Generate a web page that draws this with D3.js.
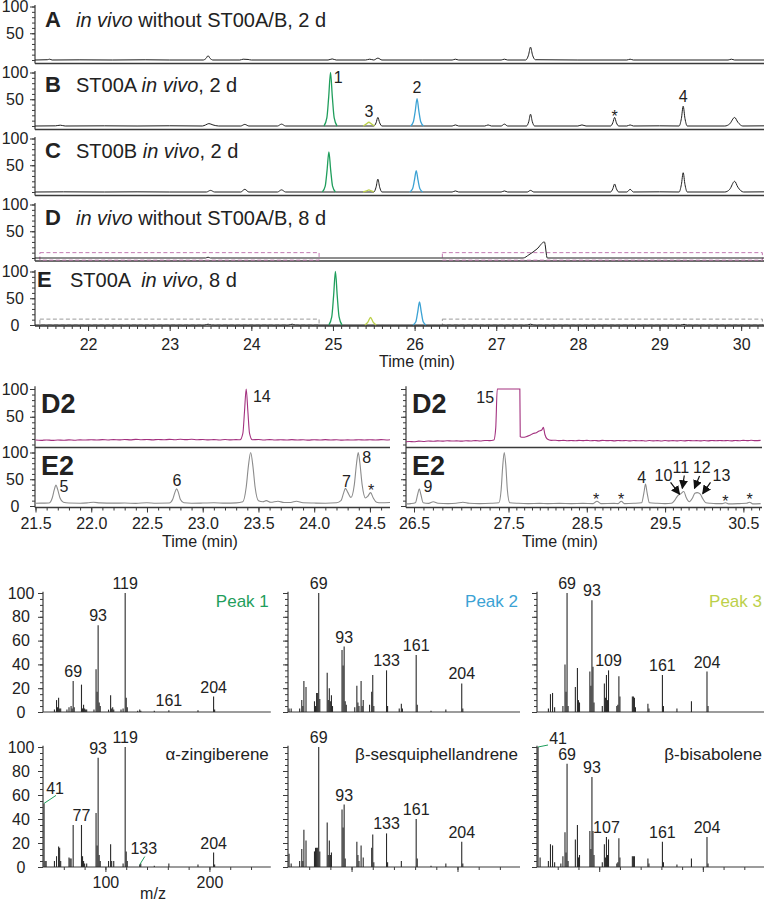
<!DOCTYPE html>
<html><head><meta charset="utf-8">
<script src="https://cdn.jsdelivr.net/npm/d3@7"></script>
<style>
body{margin:0;background:#fff}
svg text{font-family:"Liberation Sans",Arial,Helvetica,sans-serif;fill:#222}
</style>
</head><body>
<svg id="c" width="767" height="901"></svg>
<script>
// ---------------- DATA ----------------
// Top chromatograms (time in min, relative intensity %)
const traceA = [[21.35,0],[21.5,0.5],[21.53,1.5],[21.56,0],[21.9,0.3],[22.3,0],[22.7,0.4],[23.0,0],[23.41,0],[23.445,3],[23.47,8],[23.495,3],[23.53,0],[23.86,0],[23.9,1.5],[23.96,1],[24.0,0],[24.94,0],[24.99,2],[25.04,0],[25.4,0],[25.45,1.5],[25.5,0],[25.55,3.5],[25.6,0],[26.1,0],[26.46,0],[26.5,1.5],[26.54,0],[27.06,0],[27.1,1.5],[27.14,0],[27.36,0],[27.395,9],[27.42,24],[27.445,9],[27.48,0.5],[28.0,0],[28.6,0],[28.64,1.5],[28.68,0],[29.84,0],[29.88,1.5],[29.92,0],[30.28,0]];
const traceB = [[21.35,0],[21.6,0.3],[21.66,1.5],[21.72,0],[22.2,0.3],[22.6,0],[23.0,0.4],[23.4,0],[23.44,2],[23.48,4.5],[23.53,2],[23.6,0],[23.87,0],[23.92,3],[23.97,0],[24.32,0],[24.37,3.5],[24.42,0],[24.89,0],[25.05,0],[25.37,0],[25.5,0],[25.528,6],[25.55,16],[25.572,6],[25.6,0],[25.95,0],[26.11,0],[26.46,0],[26.5,2],[26.54,0],[26.86,0],[26.9,2],[26.94,0],[27.06,0],[27.1,3.5],[27.14,0],[27.37,0],[27.398,8],[27.42,22],[27.442,8],[27.47,0],[28.0,0],[28.05,2],[28.1,0],[28.4,0],[28.428,6],[28.45,16],[28.472,6],[28.5,0],[28.6,0],[28.64,2],[28.68,0],[29.0,0.3],[29.24,0],[29.268,14],[29.29,37],[29.312,14],[29.34,0],[29.8,0],[29.86,4],[29.92,16],[29.96,7],[30.02,0],[30.28,0.3]];
const traceC = [[21.35,0],[21.7,0.3],[22.2,0],[22.6,0.3],[23.0,0],[23.45,0],[23.5,3],[23.55,0],[23.87,0],[23.92,5],[23.97,0],[24.32,0],[24.37,4],[24.42,0],[24.87,0],[25.03,0],[25.37,0],[25.5,0],[25.528,9],[25.55,24],[25.572,9],[25.6,0],[25.94,0],[26.1,0],[26.46,0],[26.5,2],[26.54,0],[27.06,0],[27.1,2],[27.14,0],[27.38,0],[27.42,3],[27.46,0],[28.4,0],[28.428,6],[28.45,15],[28.472,6],[28.5,0],[28.6,0],[28.64,5],[28.68,0],[29.0,0.3],[29.24,0],[29.268,14],[29.29,36],[29.312,14],[29.34,0],[29.8,0],[29.86,5],[29.92,20],[29.96,9],[30.03,0],[30.28,0.3]];
const traceD = [[21.35,0],[23.44,0],[23.47,1.5],[23.5,0],[27.33,0],[27.4,6],[27.5,17],[27.59,30],[27.625,0],[30.28,0]];
const traceE = [[21.35,0],[23.43,0],[23.47,1.5],[23.51,0],[24.46,0],[24.5,1.5],[24.54,0],[24.95,0],[25.11,0],[25.38,0],[25.54,0],[25.98,0],[26.14,0],[27.38,0],[27.42,1.5],[27.46,0],[29.26,0],[29.3,1.2],[29.34,0],[30.28,0]];
// coloured peaks (1 green, 2 blue, 3 yellow) per panel
const peak1 = {B:[[24.89,0],[24.925,15],[24.948,55],[24.97,100],[24.992,55],[25.015,15],[25.05,0]],
               C:[[24.87,0],[24.905,11],[24.928,41],[24.95,75],[24.972,41],[24.995,11],[25.03,0]],
               E:[[24.95,0],[24.985,15],[25.008,55],[25.03,100],[25.052,55],[25.075,15],[25.11,0]]};
const peak2 = {B:[[25.95,0],[25.985,8],[26.008,28],[26.03,51],[26.052,28],[26.075,8],[26.11,0]],
               C:[[25.94,0],[25.975,6],[25.998,22],[26.02,40],[26.042,22],[26.065,6],[26.1,0]],
               E:[[25.98,0],[26.015,6],[26.038,24],[26.06,43],[26.082,24],[26.105,6],[26.14,0]]};
const peak3 = {B:[[25.37,0],[25.41,4],[25.44,7],[25.47,4],[25.51,0]],
               C:[[25.37,0],[25.41,2],[25.44,4],[25.47,2],[25.5,0]],
               E:[[25.39,0],[25.43,6],[25.46,14],[25.49,6],[25.53,0]]};
const zoomWindows = [[21.41,24.83],[26.34,30.26]];
const topTicks = [22,23,24,25,26,27,28,29,30];
const topPeakLabels = [[25.064,80,"1"],[25.44,17,"3"],[26.03,62,"2"],[28.45,7.5,"*"],[29.29,45,"4"]];

// Zoomed chromatograms
const d2Left = [[21.5,8],[21.55,7.5],[21.6,8.2],[21.65,7.4],[21.7,8],[21.75,7.6],[21.8,8.3],[21.85,7.7],[21.9,8.4],[21.95,8],[22.0,8.6],[22.05,8.1],[22.1,8.7],[22.15,8.2],[22.2,8.8],[22.25,8.3],[22.3,9],[22.35,8.4],[22.4,9.3],[22.45,8.6],[22.5,9],[22.55,8.4],[22.6,9.1],[22.65,8.5],[22.7,9.2],[22.75,8.6],[22.8,9.4],[22.85,8.7],[22.9,9.5],[22.95,8.6],[23.0,9],[23.05,8.3],[23.1,8.8],[23.15,8.2],[23.2,8.9],[23.25,8.3],[23.3,8.7],[23.335,8.5],[23.36,20],[23.375,60],[23.39,100],[23.405,60],[23.42,20],[23.445,8.5],[23.5,9],[23.55,8.2],[23.6,8.8],[23.65,8.1],[23.7,8.6],[23.75,8],[23.8,8.7],[23.85,8.1],[23.9,8.5],[23.95,7.9],[24.0,8.6],[24.05,8],[24.1,8.7],[24.15,8.1],[24.2,8.5],[24.25,7.9],[24.3,8.4],[24.35,8],[24.4,8.6],[24.45,8],[24.5,8.5],[24.55,8.1],[24.6,8.7],[24.65,8.2],[24.68,8.6]];
const e2Left = [[21.5,5],[21.55,5.3],[21.62,5.5],[21.65,15],[21.668,30],[21.684,39],[21.7,30],[21.72,15],[21.75,7],[21.8,5.5],[21.9,5.2],[21.97,6],[22.02,7],[22.08,5.8],[22.2,5.3],[22.3,5.5],[22.4,5],[22.5,6],[22.58,5.2],[22.7,5.5],[22.73,12],[22.75,25],[22.766,32],[22.782,25],[22.8,12],[22.83,6],[22.9,5.2],[23.0,5.5],[23.1,6],[23.2,5.3],[23.3,5.8],[23.36,8],[23.39,35],[23.41,75],[23.43,100],[23.45,75],[23.47,35],[23.5,10],[23.54,8],[23.57,10],[23.61,7],[23.675,9],[23.73,6.5],[23.79,6.5],[23.84,9],[23.9,6],[24.0,5.5],[24.1,5.2],[24.2,6],[24.24,10],[24.265,25],[24.28,33],[24.3,26],[24.33,16],[24.36,40],[24.38,80],[24.395,100],[24.41,80],[24.43,40],[24.46,15],[24.48,18],[24.506,25],[24.53,15],[24.56,7],[24.6,6],[24.68,6.5]];
const d2Right = [[26.415,5],[26.45,5.5],[26.5,5],[26.55,6],[26.6,5.5],[26.65,6.3],[26.7,5.8],[26.75,6.5],[26.8,6],[26.85,6.8],[26.9,6.2],[26.95,6.6],[27.0,6],[27.05,6.8],[27.1,6.3],[27.15,7],[27.2,6.4],[27.25,7.2],[27.3,7],[27.345,8],[27.365,30],[27.381,100],[27.645,100],[27.65,14],[27.685,13],[27.725,14],[27.765,16],[27.815,20],[27.855,21],[27.885,24],[27.925,26],[27.945,31],[27.965,18],[27.995,10],[28.045,7.5],[28.1,7.6],[28.15,7],[28.2,7.4],[28.25,6.8],[28.3,7.3],[28.35,6.7],[28.4,7.4],[28.45,6.9],[28.5,7.5],[28.55,6.8],[28.6,7.2],[28.65,6.6],[28.7,7.4],[28.75,6.9],[28.8,7.2],[28.85,6.6],[28.9,7.3],[28.95,6.7],[29.0,7.1],[29.05,6.5],[29.1,7.2],[29.15,6.7],[29.2,7],[29.25,6.4],[29.3,7.1],[29.35,6.6],[29.4,7],[29.45,6.4],[29.5,7.2],[29.55,6.6],[29.6,7],[29.65,6.5],[29.7,7.1],[29.75,6.6],[29.8,7.2],[29.85,6.7],[29.9,7],[29.95,6.5],[30.0,7.1],[30.05,6.6],[30.1,7.2],[30.15,6.8],[30.2,7.3],[30.25,6.7],[30.3,7.1],[30.35,6.6],[30.4,7.3],[30.45,6.8],[30.5,7.5],[30.55,7],[30.6,7.6],[30.65,7],[30.72,7.4]];
const e2Right = [[26.415,4],[26.465,4.5],[26.514,6],[26.539,22],[26.556,32],[26.572,22],[26.597,6],[26.655,5],[26.704,8],[26.754,5],[26.861,4.5],[26.944,5],[27.018,7],[27.084,5],[27.191,4.5],[27.315,5],[27.398,6],[27.422,30],[27.439,75],[27.455,100],[27.472,75],[27.488,30],[27.516,6],[27.625,5],[27.75,4.5],[27.9,5],[28.0,4.5],[28.15,5],[28.3,4.5],[28.45,5],[28.58,4.5],[28.63,9],[28.68,4.5],[28.85,5],[28.9,4.5],[28.94,9],[28.98,4.5],[29.1,5],[29.2,6],[29.23,25],[29.25,41],[29.27,25],[29.3,6],[29.4,5],[29.5,4.5],[29.58,5],[29.62,10],[29.66,19],[29.7,23],[29.74,27],[29.77,16],[29.81,8],[29.85,15],[29.88,24],[29.91,25],[29.95,22],[29.98,14],[30.02,6],[30.08,5],[30.15,4.5],[30.23,4.5],[30.27,6],[30.31,4],[30.45,4.5],[30.54,5],[30.58,7],[30.62,4],[30.72,4.5]];
const midTicksLeft = [21.5,22.0,22.5,23.0,23.5,24.0,24.5];
const midTicksRight = [26.5,27.5,28.5,29.5,30.5];
const d2LeftLabels = [[23.53,76.6,"14"]];
const e2LeftLabels = [[21.756,26,"5"],[22.77,37,"6"],[24.29,35.5,"7"],[24.47,80,"8"],[24.51,19,"*"]];
const d2RightLabels = [[27.347,75,"15"]];
const e2RightLabels = [[26.648,26,"9"],[28.62,2,"*"],[28.94,2,"*"],[29.20,43,"4"],[29.48,47,"10"],[29.70,62,"11"],[29.97,62,"12"],[30.22,47,"13"],[30.27,-2,"*"],[30.58,2,"*"]];
// arrows: [t0,v0,t1,v1]
const e2Arrows = [[29.57,44,29.685,22],[29.745,57,29.72,33],[29.94,56,29.875,33],[30.08,44,29.98,23]];

// Mass spectra: [m/z, relative abundance]
const msPeak1 = [[51,2],[53,10],[54,4],[55,12],[56,3],[57,3],[63,2],[65,4],[67,5],[68,3],[69,26],[70,4],[77,23],[78,3],[79,6],[80,3],[81,2],[82,2],[89,2],[91,36],[92,17],[93,73],[94,8],[95,5],[103,2],[105,14],[106,3],[107,4],[108,2],[115,2],[117,3],[119,100],[120,12],[121,4],[131,1],[133,2],[134,1],[147,1],[161,1.5],[189,1.5],[204,13],[205,2]];
const msPeak2 = [[41,3],[43,3],[51,3],[53,10],[54,5],[55,26],[57,21],[65,9],[66,5],[67,16],[68,16],[69,100],[70,11],[77,33],[78,10],[79,20],[80,9],[81,14],[82,5],[91,52],[92,39],[93,55],[94,9],[95,6],[103,4],[105,22],[106,8],[107,5],[109,26],[110,5],[111,10],[117,6],[119,17],[120,31],[121,5],[133,35],[134,5],[145,3],[147,7],[148,3],[161,48],[162,6],[175,1],[189,2],[204,24],[205,3]];
const msPeak3 = [[51,3],[53,15],[55,16],[57,4],[65,5],[67,40],[68,17],[69,100],[70,5],[77,21],[79,37],[80,10],[81,8],[91,34],[92,22],[93,94],[94,38],[95,8],[103,5],[105,24],[106,12],[107,31],[108,10],[109,35],[117,5],[118,6],[119,30],[120,13],[132,13],[133,13],[134,12],[135,4],[147,7],[148,3],[161,31],[162,5],[175,3],[189,9],[204,34],[205,5]];
const msZingiberene = [[41,53],[42,5],[43,5],[51,5],[53,9],[55,17],[56,16],[57,5],[65,8],[66,7],[67,7],[69,35],[77,35],[78,9],[79,5],[80,3],[82,3],[91,45],[92,18],[93,91],[94,10],[95,5],[103,5],[105,19],[106,5],[108,5],[117,3],[119,100],[120,13],[121,5],[133,2],[134,3],[147,1],[161,3],[189,2],[204,12],[205,2]];
const msSesquiphellandrene = [[41,11],[43,3],[51,5],[53,15],[54,5],[55,31],[57,22],[65,13],[66,16],[67,16],[68,16],[69,100],[70,13],[77,37],[78,10],[79,22],[80,10],[81,12],[91,48],[92,33],[93,52],[94,7],[105,21],[106,10],[107,5],[109,18],[111,8],[119,16],[120,27],[121,4],[133,28],[134,4],[147,5],[161,40],[162,7],[175,1],[189,3],[204,21],[205,3]];
const msBisabolene = [[41,100],[43,8],[51,5],[53,19],[55,18],[57,4],[63,3],[65,9],[67,29],[68,12],[69,86],[70,5],[77,23],[79,35],[80,8],[81,10],[91,30],[92,15],[93,75],[94,30],[95,10],[103,4],[105,19],[106,8],[107,25],[108,10],[109,23],[117,3],[118,4],[119,24],[120,8],[132,9],[133,9],[134,9],[147,7],[148,3],[161,21],[162,4],[175,2],[189,7],[204,25],[205,3]];
const msLabels = [[69,93,119,161,204],[69,93,133,161,204],[69,93,109,161,204],[41,77,93,119,133,204],[69,93,133,161,204],[41,69,93,107,161,204]];
const msCallouts = [[3,41],[3,133],[5,41]];
const msTitles = ["Peak 1","Peak 2","Peak 3","\u03b1-zingiberene","\u03b2-sesquiphellandrene","\u03b2-bisabolene"];
const msYTicks = [0,20,40,60,80,100];
const msXTicks = [100,200];

// ---------------- DRAWING ----------------
const svg = d3.select("#c");
const AX = "#3a3a3a";
const GREEN = "#1f9e5c", BLUE = "#3ba2d4", YELLOW = "#bcd04a", MAGENTA = "#a3317f", GREY = "#8c8c8c";

function styleAxis(g){ g.selectAll("path.domain").remove(); g.selectAll(".tick line").attr("stroke",AX).attr("stroke-width",1); }

// ---- Top panels ----
const xTop = d3.scaleLinear().domain([21.35,30.28]).range([35,764]);
const topIds = ["A","B","C","D","E"];
const topTraces = [traceA,traceB,traceC,traceD,traceE];
const topY0 = [60,126,192,258,325];
const topBottom = [63.5,129.5,195.5,261,326];
const topTitleY = [27,92,158,225,287];
const topTitles = [
 [["in vivo","i"],[" without ST00A/B, 2 d",""]],
 [["ST00A ",""],["in vivo","i"],[", 2 d",""]],
 [["ST00B ",""],["in vivo","i"],[", 2 d",""]],
 [["in vivo","i"],[" without ST00A/B, 8 d",""]],
 [["ST00A  ",""],["in vivo","i"],[", 8 d",""]]];

topIds.forEach((id,i)=>{
  const y = d3.scaleLinear().domain([0,100]).range([topY0[i], topY0[i]-53.5]);
  const g = svg.append("g");
  g.append("line").attr("x1",35).attr("x2",35).attr("y1",y(103)).attr("y2",topBottom[i]).attr("stroke",AX).attr("stroke-width",1.2);
  const minor = g.append("g").attr("transform","translate(35,0)").call(d3.axisLeft(y).tickValues(d3.range(0,101,10)).tickSize(3).tickFormat(""));
  styleAxis(minor);
  const major = g.append("g").attr("transform","translate(35,0)").call(d3.axisLeft(y).tickValues(id==="E"?[0,50,100]:[50,100]).tickSize(5));
  styleAxis(major);
  major.selectAll("text").attr("x",-20).attr("text-anchor","middle").attr("font-size",16).attr("font-family",null).attr("fill","#222");
  g.append("line").attr("x1",35).attr("x2",764).attr("y1",topBottom[i]).attr("y2",topBottom[i]).attr("stroke",AX).attr("stroke-width",1.3);
  if(id==="D"||id==="E"){
    g.selectAll("rect.zw").data(zoomWindows).join("rect")
      .attr("x",d=>xTop(d[0])).attr("width",d=>xTop(d[1])-xTop(d[0]))
      .attr("y",y(id==="D"?10:11)).attr("height",y(id==="D"?-4:0)-y(id==="D"?10:11))
      .attr("fill","none").attr("stroke",id==="D"?"#c27ab2":"#9a9a9a").attr("stroke-width",1).attr("stroke-dasharray","4,2.5");
  }
  const line = d3.line().x(d=>xTop(d[0])).y(d=>y(d[1])).curve(d3.curveMonotoneX);
  g.append("path").attr("d",line(topTraces[i])).attr("fill","none").attr("stroke","#1e1e1e").attr("stroke-width",1);
  [[peak3,YELLOW],[peak1,GREEN],[peak2,BLUE]].forEach(([p,c])=>{
    if(p[id]) g.append("path").attr("d",line(p[id])).attr("fill","none").attr("stroke",c).attr("stroke-width",1.3);
  });
  g.append("text").attr("x",id==="E"?37:45).attr("y",topTitleY[i]).attr("font-size",22).attr("font-weight","bold").text(id);
  const t = g.append("text").attr("x",id==="E"?70:76).attr("y",topTitleY[i]).attr("font-size",20).style("white-space","pre");
  topTitles[i].forEach(([s,st])=>t.append("tspan").attr("font-style",st==="i"?"italic":null).text(s));
  if(id==="B"){
    g.selectAll("text.pl").data(topPeakLabels).join("text").attr("x",d=>xTop(d[0])).attr("y",d=>y(d[1]))
      .attr("text-anchor","middle").attr("font-size",16).text(d=>d[2]);
  }
  if(id==="E"){
    const ax = g.append("g").attr("transform",`translate(0,${topBottom[i]})`).call(d3.axisBottom(xTop).tickValues(d3.range(214,303).map(v=>v/10)).tickSize(3).tickFormat(""));
    styleAxis(ax);
    const axM = g.append("g").attr("transform",`translate(0,${topBottom[i]})`).call(d3.axisBottom(xTop).tickValues(topTicks).tickSize(5).tickFormat(d3.format("d")));
    styleAxis(axM);
    axM.selectAll("text").attr("font-size",16).attr("font-family",null).attr("fill","#222").attr("y",13);
    g.append("text").attr("x",417).attr("y",367).attr("text-anchor","middle").attr("font-size",16).text("Time (min)");
  }
});

// ---- Zoomed panels ----
const xML = d3.scaleLinear().domain([21.5,24.68]).range([35.5,390]);
const xMR = d3.scaleLinear().domain([26.415,26.5,27.5,30.72]).range([406,414,508.5,760.6]);
const yD2 = d3.scaleLinear().domain([0,100]).range([444.5,389]);
const yE2 = d3.scaleLinear().domain([0,100]).range([506,452.5]);

function midPanel(x, x0, x1, labelsOn, d2, e2, d2Labels, e2Labels, ticks, minorTicks){
  const g = svg.append("g");
  g.append("line").attr("x1",x0).attr("x2",x0).attr("y1",yD2(105)).attr("y2",507.5).attr("stroke",AX).attr("stroke-width",1.2);
  [[yD2,[50,100]],[yE2,[0,50,100]]].forEach(([y,maj])=>{
    const mi = g.append("g").attr("transform",`translate(${x0},0)`).call(d3.axisLeft(y).tickValues(d3.range(0,101,10)).tickSize(3).tickFormat(""));
    styleAxis(mi);
    const ma = g.append("g").attr("transform",`translate(${x0},0)`).call(d3.axisLeft(y).tickValues(maj).tickSize(5).tickFormat(labelsOn?d3.format("d"):""));
    styleAxis(ma);
    ma.selectAll("text").attr("x",15-x0).attr("text-anchor","middle").attr("font-size",16).attr("font-family",null).attr("fill","#222");
  });
  g.append("line").attr("x1",x0).attr("x2",x1).attr("y1",447.5).attr("y2",447.5).attr("stroke",AX).attr("stroke-width",1.3);
  g.append("line").attr("x1",x0).attr("x2",x1).attr("y1",507.5).attr("y2",507.5).attr("stroke",AX).attr("stroke-width",1.3);
  const mi = g.append("g").attr("transform","translate(0,507.5)").call(d3.axisBottom(x).tickValues(minorTicks).tickSize(3).tickFormat(""));
  styleAxis(mi);
  const ma = g.append("g").attr("transform","translate(0,507.5)").call(d3.axisBottom(x).tickValues(ticks).tickSize(5).tickFormat(d3.format(".1f")));
  styleAxis(ma);
  ma.selectAll("text").attr("font-size",16).attr("font-family",null).attr("fill","#222").attr("y",10);
  const lD = d3.line().x(d=>x(d[0])).y(d=>yD2(d[1])).curve(d3.curveMonotoneX);
  const lE = d3.line().x(d=>x(d[0])).y(d=>yE2(d[1])).curve(d3.curveMonotoneX);
  g.append("path").attr("d",lD(d2)).attr("fill","none").attr("stroke",MAGENTA).attr("stroke-width",1.1);
  g.append("path").attr("d",lE(e2)).attr("fill","none").attr("stroke",GREY).attr("stroke-width",1.1);
  g.append("text").attr("x",x0+6).attr("y",413).attr("font-size",27).attr("font-weight","bold").text("D2");
  g.append("text").attr("x",x0+6).attr("y",475).attr("font-size",27).attr("font-weight","bold").text("E2");
  g.selectAll("text.d2l").data(d2Labels).join("text").attr("x",d=>x(d[0])).attr("y",d=>yD2(d[1]))
    .attr("text-anchor",d=>d[2]==="15"?"end":"middle").attr("font-size",16).text(d=>d[2]);
  g.selectAll("text.e2l").data(e2Labels).join("text").attr("x",d=>x(d[0])).attr("y",d=>yE2(d[1]))
    .attr("text-anchor","middle").attr("font-size",16).text(d=>d[2]);
  return g;
}
midPanel(xML,35,390,true,d2Left,e2Left,d2LeftLabels,e2LeftLabels,midTicksLeft,d3.range(215,247).map(v=>v/10));
const gR = midPanel(xMR,406,762,false,d2Right,e2Right,d2RightLabels,e2RightLabels,midTicksRight,d3.range(265,308).map(v=>v/10));
svg.append("text").attr("x",200).attr("y",547).attr("text-anchor","middle").attr("font-size",16).text("Time (min)");
svg.append("text").attr("x",560).attr("y",547).attr("text-anchor","middle").attr("font-size",16).text("Time (min)");
const defs = svg.append("defs");
defs.append("marker").attr("id","ah").attr("viewBox","0 0 10 10").attr("refX",9).attr("refY",5)
  .attr("markerWidth",9).attr("markerHeight",9).attr("markerUnits","userSpaceOnUse").attr("orient","auto")
  .append("path").attr("d","M0,0L10,5L0,10z").attr("fill","#111");
gR.selectAll("line.arr").data(e2Arrows).join("line")
  .attr("x1",d=>xMR(d[0])).attr("y1",d=>yE2(d[1])).attr("x2",d=>xMR(d[2])).attr("y2",d=>yE2(d[3]))
  .attr("stroke","#111").attr("stroke-width",1.2).attr("marker-end","url(#ah)");

// ---- Mass spectra ----
const spectra = [msPeak1,msPeak2,msPeak3,msZingiberene,msSesquiphellandrene,msBisabolene];
const colRanges = [[43,270.8],[288,520],[537,764]];
const rowY = [[712,593],[867,747]];
const titleColors = [GREEN,BLUE,YELLOW,"#222","#222","#222"];
spectra.forEach((sp,k)=>{
  const r = Math.floor(k/3), c = k%3;
  const x = d3.scaleLinear().domain([40,259]).range(colRanges[c]);
  const y = d3.scaleLinear().domain([0,100]).range(rowY[r]);
  const g = svg.append("g");
  const x0 = colRanges[c][0];
  g.append("line").attr("x1",x0).attr("x2",x0).attr("y1",y(101)).attr("y2",y(0)).attr("stroke",AX).attr("stroke-width",1.2);
  const mi = g.append("g").attr("transform",`translate(${x0},0)`).call(d3.axisLeft(y).tickValues(d3.range(0,101,5)).tickSize(3).tickFormat(""));
  styleAxis(mi);
  const ma = g.append("g").attr("transform",`translate(${x0},0)`).call(d3.axisLeft(y).tickValues(msYTicks).tickSize(5).tickFormat(c===0?d3.format("d"):""));
  styleAxis(ma);
  ma.selectAll("text").attr("x",21-x0).attr("text-anchor","middle").attr("font-size",16).attr("font-family",null).attr("fill","#222");
  g.append("line").attr("x1",x0).attr("x2",colRanges[c][1]).attr("y1",y(0)).attr("y2",y(0)).attr("stroke",AX).attr("stroke-width",1.2);
  if(r===1){
    const xm = g.append("g").attr("transform",`translate(0,${y(0)})`).call(d3.axisBottom(x).tickValues(d3.range(60,260,20)).tickSize(3).tickFormat(""));
    styleAxis(xm);
    const xM = g.append("g").attr("transform",`translate(0,${y(0)})`).call(d3.axisBottom(x).tickValues(msXTicks).tickSize(5).tickFormat(c===0?d3.format("d"):""));
    styleAxis(xM);
    xM.selectAll("text").attr("font-size",16).attr("font-family",null).attr("fill","#222").attr("y",10);
  }
  g.selectAll("line.bar").data(sp).join("line")
    .attr("x1",d=>x(d[0])).attr("x2",d=>x(d[0])).attr("y1",y(0)).attr("y2",d=>y(d[1]))
    .attr("stroke","#2a2a2a").attr("stroke-width",1.1);
  const lookup = new Map(sp);
  const callouts = msCallouts.filter(d=>d[0]===k).map(d=>d[1]);
  const off = d => !callouts.includes(d) ? [0,-4] : (d===41 ? (k===5 ? [20,-3] : [11,-9]) : [4,-11]);
  g.selectAll("text.ml").data(msLabels[k]).join("text")
    .attr("x",d=>x(d)+off(d)[0]).attr("y",d=>y(lookup.get(d))+off(d)[1])
    .attr("text-anchor","middle").attr("font-size",16).text(d=>d);
  callouts.forEach(d=>{
    const bx = x(d), by = y(lookup.get(d));
    const e = d===41 ? (k===5 ? [10,-2] : [12,-8]) : [5,-8];
    g.append("line").attr("x1",bx).attr("y1",by).attr("x2",bx+e[0]).attr("y2",by+e[1]).attr("stroke",GREEN).attr("stroke-width",1);
  });
  g.append("text").attr("x",colRanges[c][1]-2).attr("y",r===0?607:760).attr("text-anchor","end")
    .attr("font-size",17).style("fill",titleColors[k]).text(msTitles[k]);
});
svg.append("text").attr("x",153).attr("y",899).attr("text-anchor","middle").attr("font-size",16).text("m/z");
</script>
</body></html>
